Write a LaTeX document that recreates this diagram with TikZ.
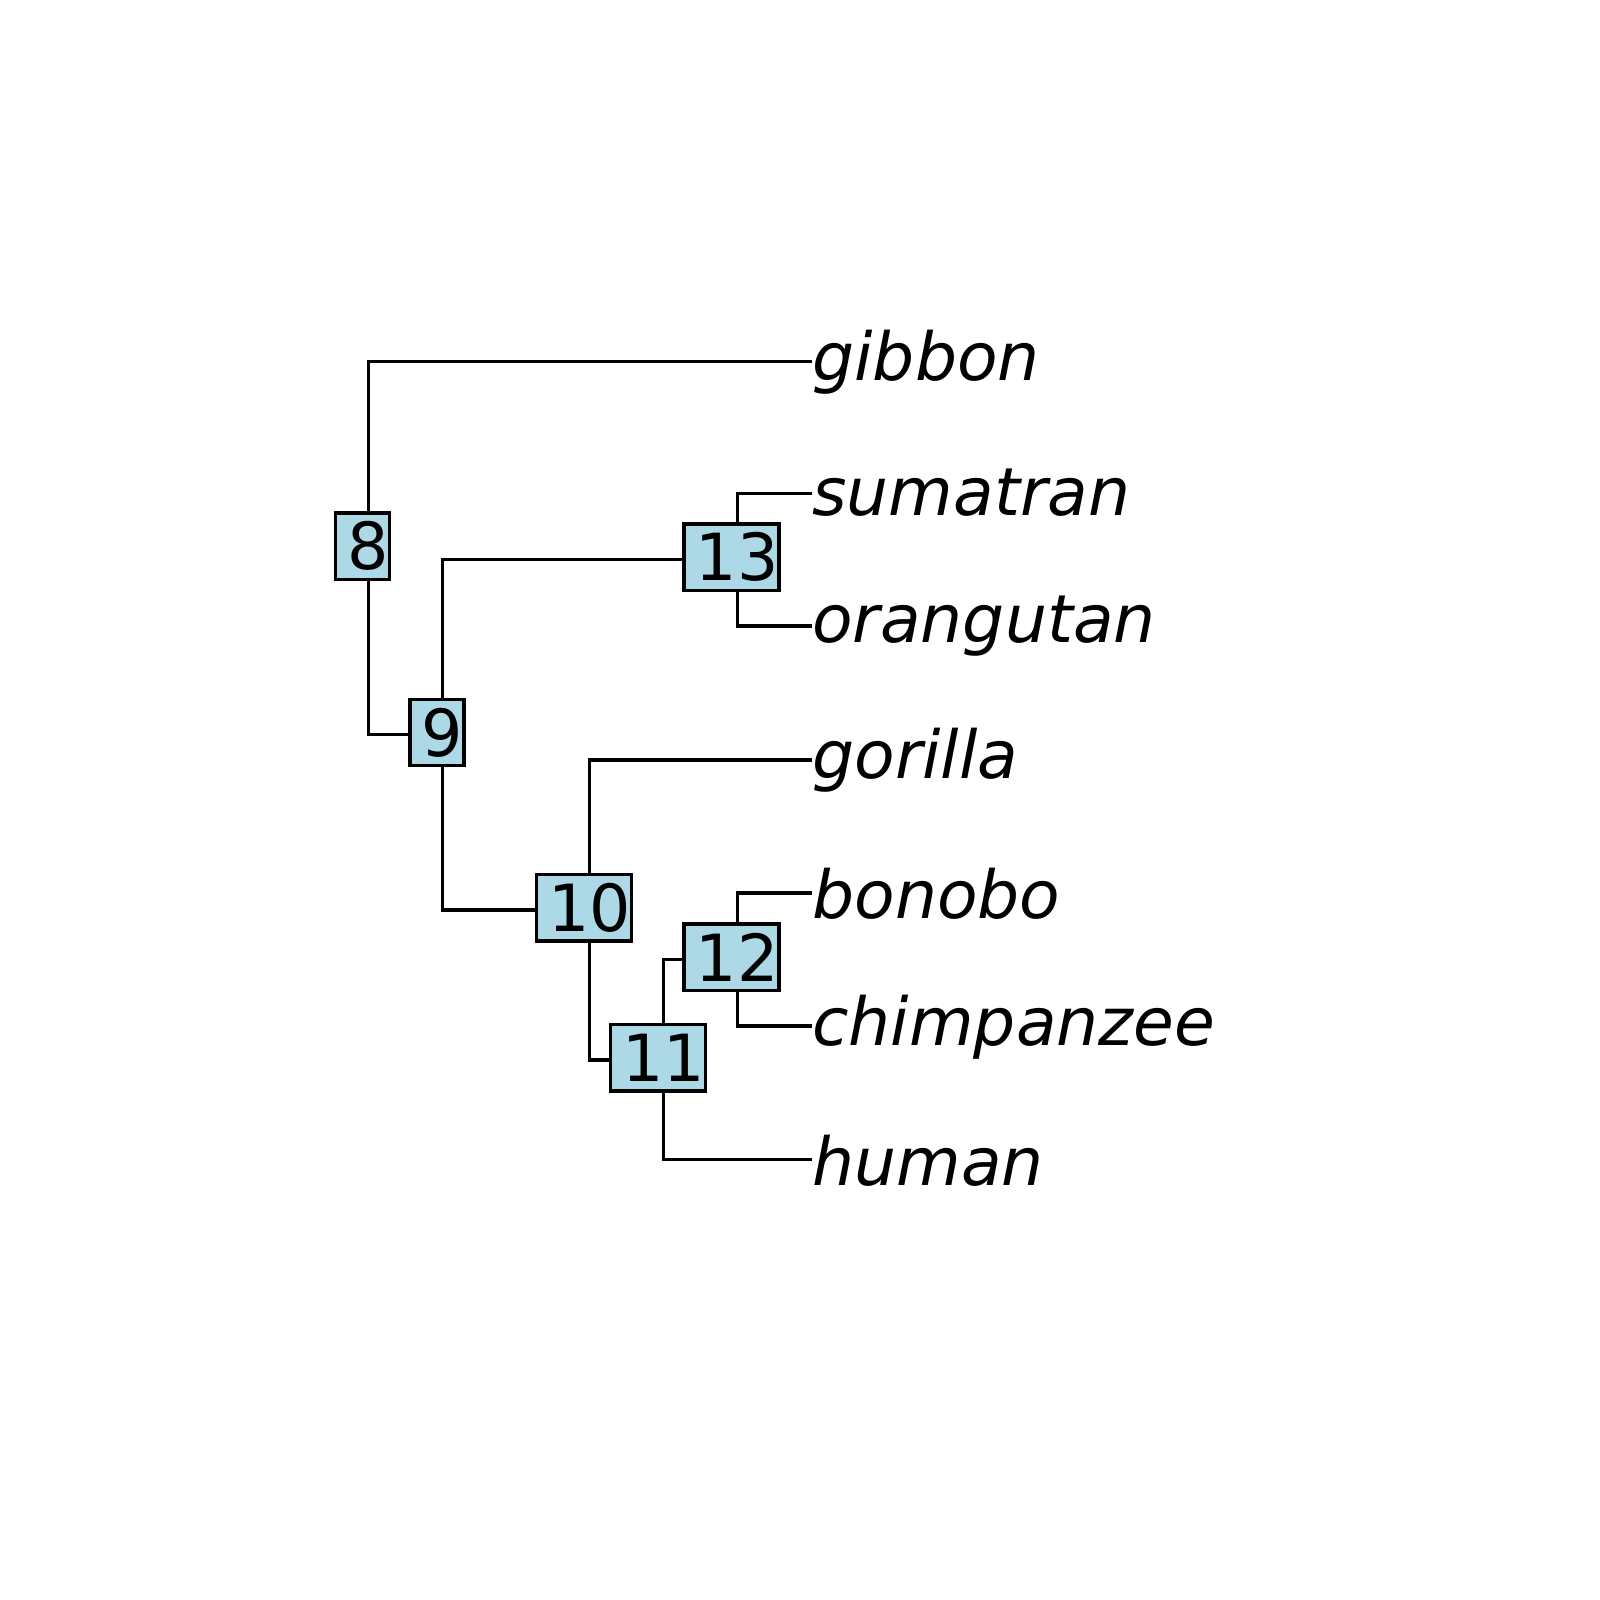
\documentclass[tikz,border=0pt]{standalone}
\usepackage{fontspec}
\setmainfont{DejaVu Sans}[ItalicFont={DejaVu Sans Oblique}]
\definecolor{nodefill}{HTML}{ADD8E6}
\tikzset{
  edge/.style={line width=1pt},
  nodebox/.style={draw, fill=nodefill, line width=1pt, inner sep=0pt,
    minimum height=19.95pt, xshift=-1.71pt, yshift=0.66pt,
    font=\fontsize{19.5}{23}\selectfont},
  onedig/.style={nodebox, minimum width=16.2pt},
  twodig/.style={nodebox, minimum width=28.5pt},
  tiplabel/.style={anchor=base west, inner sep=0pt,
    font=\fontsize{19.9}{23}\selectfont\itshape}
}
\newcommand{\sh}{\hspace*{3.42pt}}
\begin{document}
\begin{tikzpicture}[x=0.3pt,y=-0.3pt]
\useasboundingbox (0,0) rectangle (1600,1600);
% internal node positions
\coordinate (n8) at (368.3,548.3);
\coordinate (n9) at (442.6,734.7);
\coordinate (n13) at (737.2,559.3);
\coordinate (n10) at (589.5,910);
\coordinate (n11) at (663.5,1060);
\coordinate (n12) at (737.2,959.3);
% tips
\coordinate (t1) at (811.7,361.7);
\coordinate (t2) at (811.7,493.2);
\coordinate (t3) at (811.7,626.0);
\coordinate (t4) at (811.7,760.0);
\coordinate (t5) at (811.7,892.9);
\coordinate (t6) at (811.7,1026.0);
\coordinate (t7) at (811.7,1159.3);
% edges
\draw[edge] (n8) |- (t1);
\draw[edge] (n8) |- (n9);
\draw[edge] (n9) |- (n13);
\draw[edge] (n9) |- (n10);
\draw[edge] (n13) |- (t2);
\draw[edge] (n13) |- (t3);
\draw[edge] (n10) |- (t4);
\draw[edge] (n10) |- (n11);
\draw[edge] (n11) |- (n12);
\draw[edge] (n11) |- (t7);
\draw[edge] (n12) |- (t5);
\draw[edge] (n12) |- (t6);
% node labels
\node[onedig] (b8) at (n8) {\sh 8};
\node[onedig] (b9) at (n9) {\sh 9};
\node[twodig] (b13) at (n13) {\sh 13};
\node[twodig] (b10) at (n10) {\sh 10};
\node[twodig] (b11) at (n11) {\sh 11};
\node[twodig] (b12) at (n12) {\sh 12};
% tip labels
\node[tiplabel] (gibbon) at (811.7,380.0) {gibbon};
\node[tiplabel] (sumatran) at (811.7,515.5) {sumatran};
\node[tiplabel] (orangutan) at (811.7,642.0) {orangutan};
\node[tiplabel] (gorilla) at (811.7,778.3) {gorilla};
\node[tiplabel] (bonobo) at (811.7,918.4) {bonobo};
\node[tiplabel] (chimpanzee) at (811.7,1045.0) {chimpanzee};
\node[tiplabel] (human) at (811.7,1185.0) {human};
\end{tikzpicture}
\end{document}
